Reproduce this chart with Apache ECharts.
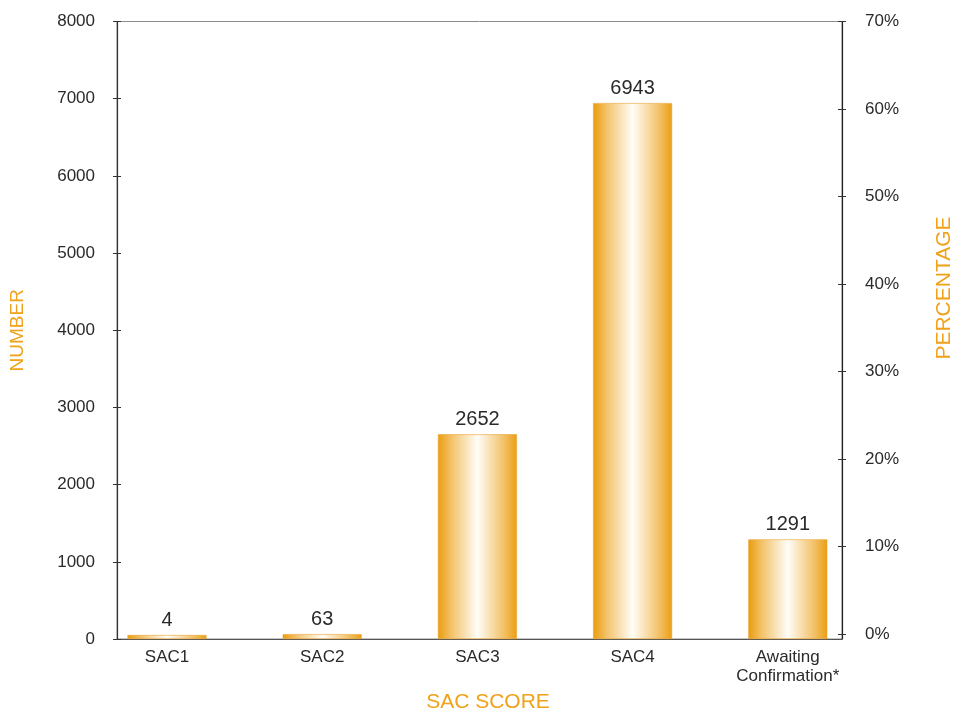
<!DOCTYPE html>
<html>
<head>
<meta charset="utf-8">
<title>SAC score</title>
<script src="https://cdn.jsdelivr.net/npm/echarts@6/dist/echarts.min.js"></script>
<style>
  html, body { margin: 0; padding: 0; background: #ffffff; }
  #chart { width: 953px; height: 715px; }
</style>
</head>
<body>
<div id="chart"></div>
<script>
// SAC score categories and the number of cases in each
const categories = ['SAC1', 'SAC2', 'SAC3', 'SAC4', 'Awaiting\nConfirmation*'];
const counts = [4, 63, 2652, 6943, 1291];

// Axis ranges
const numberMax = 8000;
const numberStep = 1000;
const percentMax = 70;
const percentStep = 10;

const FONT = 'Liberation Sans, Arial, sans-serif';
const TEXT = '#2a2a2a';
const ORANGE = '#f0a21a';

const barFill = new echarts.graphic.LinearGradient(0, 0, 1, 0, [
  { offset: 0, color: '#eb9c0c' },
  { offset: 0.18, color: '#f3c46e' },
  { offset: 0.5, color: '#fffdf8' },
  { offset: 0.82, color: '#f3c46e' },
  { offset: 1, color: '#eb9f14' }
]);

const frame = { left: 117, right: 111, top: 21.5, bottom: 76, outerBoundsMode: 'none' };
const pctFrame = { left: 117, right: 111, top: 21.7, bottom: 81, outerBoundsMode: 'none' };

// tick marks that cross the axis line are drawn as an outside tick plus an inside tick
function insideTicks(gridIndex, position, max, step) {
  return {
    gridIndex: gridIndex, type: 'value', position: position, min: 0, max: max, interval: step,
    axisLine: { show: false, onZero: false },
    axisTick: { show: true, inside: true, length: 4, lineStyle: { color: '#333333' } },
    axisLabel: { show: false }, splitLine: { show: false }
  };
}

const chart = echarts.init(document.getElementById('chart'), null, { renderer: 'canvas' });

chart.setOption({
  animation: false,
  backgroundColor: '#ffffff',
  textStyle: { fontFamily: FONT },
  grid: [
    Object.assign({ show: true, borderColor: '#8c8c8c', borderWidth: 1 }, frame), // 0: frame, number axis
    { left: 89.4, right: 87.6, top: 21.5, bottom: 76, outerBoundsMode: 'none' },   // 1: bars
    Object.assign({}, pctFrame),                                                    // 2: percentage axis
    Object.assign({}, frame),                                                       // 3: number inside ticks
    Object.assign({}, pctFrame)                                                     // 4: percentage inside ticks
  ],
  xAxis: [
    {
      gridIndex: 0, type: 'value', min: 0, max: 1,
      axisLine: { show: true, onZero: false, lineStyle: { color: '#555555', width: 1.2 } },
      axisTick: { show: false }, axisLabel: { show: false }, splitLine: { show: false }
    },
    {
      gridIndex: 1, type: 'category', data: categories,
      axisLine: { show: false, onZero: false }, axisTick: { show: false }, splitLine: { show: false },
      axisLabel: { color: TEXT, fontSize: 17, fontFamily: FONT, margin: 9, lineHeight: 19, interval: 0 }
    },
    { gridIndex: 2, type: 'value', min: 0, max: 1, show: false },
    { gridIndex: 3, type: 'value', min: 0, max: 1, show: false },
    { gridIndex: 4, type: 'value', min: 0, max: 1, show: false }
  ],
  yAxis: [
    {
      gridIndex: 0, type: 'value', position: 'left', min: 0, max: numberMax, interval: numberStep,
      axisLine: { show: true, onZero: false, lineStyle: { color: '#333333', width: 1.2 } },
      axisTick: { show: true, length: 4, lineStyle: { color: '#333333' } },
      axisLabel: { color: TEXT, fontSize: 17, fontFamily: FONT, margin: 22, formatter: (v) => String(v) },
      splitLine: { show: false },
      name: 'NUMBER', nameLocation: 'middle', nameGap: 90,
      nameTextStyle: { color: ORANGE, fontSize: 19, fontFamily: FONT }
    },
    {
      gridIndex: 0, type: 'value', position: 'right', min: 0, max: numberMax,
      axisLine: { show: true, onZero: false, lineStyle: { color: '#222222', width: 1.2 } },
      axisTick: { show: false }, axisLabel: { show: false }, splitLine: { show: false }
    },
    {
      gridIndex: 2, type: 'value', position: 'right', min: 0, max: percentMax, interval: percentStep,
      axisLine: { show: false, onZero: false },
      axisTick: { show: true, length: 4, lineStyle: { color: '#333333' } },
      axisLabel: { color: TEXT, fontSize: 17, fontFamily: FONT, margin: 23, formatter: '{value}%' },
      splitLine: { show: false }
    },
    { gridIndex: 1, type: 'value', min: 0, max: numberMax, show: false },
    insideTicks(3, 'left', numberMax, numberStep),
    insideTicks(4, 'right', percentMax, percentStep)
  ],
  graphic: [
    {
      type: 'text', x: 944, y: 288, rotation: Math.PI / 2,
      style: { text: 'PERCENTAGE', fill: ORANGE, font: '21px ' + FONT, align: 'center', verticalAlign: 'middle' }
    },
    {
      type: 'text', x: 488, y: 702,
      style: { text: 'SAC SCORE', fill: ORANGE, font: '21px ' + FONT, align: 'center', verticalAlign: 'middle' }
    }
  ],
  series: [
    {
      type: 'bar',
      xAxisIndex: 1,
      yAxisIndex: 3,
      data: counts,
      barWidth: 79,
      barMinHeight: 4,
      itemStyle: { color: barFill, borderColor: '#eaa232', borderWidth: 0.6 },
      label: {
        show: true, position: 'top', distance: 5,
        color: TEXT, fontSize: 20, fontFamily: FONT
      }
    }
  ]
});
</script>
</body>
</html>
